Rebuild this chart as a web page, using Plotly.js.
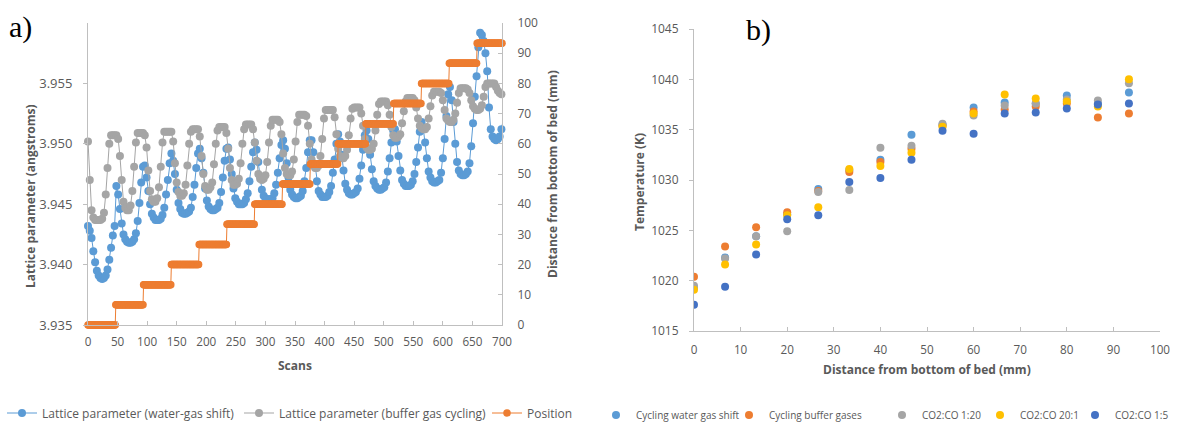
<!DOCTYPE html>
<html>
<head>
<meta charset="utf-8">
<script src="https://cdn.plot.ly/plotly-3.0.1.min.js"></script>
<style>
html,body{margin:0;padding:0;background:#fff;}
#chart{width:1181px;height:423px;}
</style>
</head>
<body>
<div id="chart"></div>
<script>
// ---------- Panel a) data ----------
const scanStep = 3; // lattice parameters read every 3 scans, starting at scan 0
const latticeWGS = [
3.9432,3.9428,3.9422,3.9411,3.9402,3.9395,3.9391,3.9389,3.9388,3.9389,3.9391,3.9396,3.9404,3.9414,3.9424,3.9432,
3.9465,3.9458,3.9446,3.9434,3.9425,3.9421,3.9419,3.9418,3.9418,3.9419,3.9421,3.9426,3.9436,3.9451,3.9468,3.9481,
3.9482,3.9472,3.9461,3.9450,3.9442,3.9439,3.9437,3.9437,3.9437,3.9438,3.9441,3.9447,3.9458,3.9470,3.9484,3.9492,
3.9486,3.9475,3.9462,3.9451,3.9446,3.9443,3.9442,3.9442,3.9443,3.9444,3.9447,3.9456,3.9466,3.9480,3.9492,3.9496,
3.9488,3.9476,3.9463,3.9453,3.9448,3.9446,3.9445,3.9445,3.9446,3.9447,3.9451,3.9460,3.9472,3.9486,3.9496,3.9497,
3.9487,3.9475,3.9463,3.9455,3.9452,3.9450,3.9450,3.9450,3.9451,3.9454,3.9459,3.9469,3.9481,3.9493,3.9501,3.9495,
3.9485,3.9473,3.9462,3.9457,3.9455,3.9454,3.9454,3.9454,3.9455,3.9459,3.9466,3.9476,3.9488,3.9499,3.9503,3.9496,
3.9484,3.9472,3.9462,3.9458,3.9456,3.9455,3.9455,3.9456,3.9457,3.9461,3.9469,3.9480,3.9493,3.9503,3.9503,3.9493,
3.9481,3.9469,3.9461,3.9458,3.9456,3.9456,3.9456,3.9457,3.9460,3.9465,3.9476,3.9487,3.9500,3.9508,3.9502,3.9491,
3.9478,3.9467,3.9462,3.9459,3.9458,3.9458,3.9459,3.9460,3.9463,3.9471,3.9482,3.9495,3.9507,3.9511,3.9504,3.9491,
3.9479,3.9469,3.9465,3.9463,3.9462,3.9462,3.9463,3.9464,3.9468,3.9477,3.9488,3.9501,3.9511,3.9512,3.9502,3.9490,
3.9478,3.9470,3.9467,3.9465,3.9465,3.9465,3.9466,3.9469,3.9475,3.9485,3.9497,3.9510,3.9518,3.9512,3.9501,3.9488,
3.9477,3.9472,3.9469,3.9468,3.9468,3.9469,3.9470,3.9476,3.9488,3.9504,3.9523,3.9541,3.9547,3.9536,3.9518,3.9500,
3.9485,3.9478,3.9475,3.9474,3.9474,3.9475,3.9477,3.9484,3.9498,3.9517,3.9539,3.9556,3.9580,3.9592,3.9590,3.9585,
3.9575,3.9560,3.9530,3.9512,3.9506,3.9504,3.9503,3.9504,3.9506,3.9512,3.9522,3.9528
];
const latticeBuffer = [
3.9502,3.9470,3.9445,3.9439,3.9437,3.9437,3.9437,3.9437,3.9438,3.9443,3.9458,3.9480,3.9500,3.9507,3.9507,3.9507,
3.9507,3.9504,3.9490,3.9470,3.9452,3.9447,3.9445,3.9445,3.9449,3.9461,3.9481,3.9501,3.9509,3.9509,3.9509,3.9509,
3.9507,3.9497,3.9478,3.9461,3.9454,3.9452,3.9452,3.9455,3.9464,3.9481,3.9501,3.9510,3.9510,3.9510,3.9510,3.9510,
3.9502,3.9484,3.9468,3.9460,3.9457,3.9457,3.9459,3.9466,3.9482,3.9500,3.9510,3.9512,3.9512,3.9512,3.9512,3.9506,
3.9490,3.9475,3.9465,3.9462,3.9462,3.9464,3.9468,3.9483,3.9500,3.9511,3.9514,3.9514,3.9514,3.9514,3.9509,3.9496,
3.9480,3.9470,3.9466,3.9466,3.9467,3.9471,3.9484,3.9500,3.9512,3.9516,3.9516,3.9516,3.9516,3.9512,3.9501,3.9486,
3.9475,3.9471,3.9470,3.9471,3.9474,3.9485,3.9501,3.9515,3.9520,3.9520,3.9520,3.9520,3.9518,3.9508,3.9492,3.9480,
3.9475,3.9474,3.9474,3.9477,3.9487,3.9502,3.9518,3.9524,3.9524,3.9524,3.9524,3.9523,3.9515,3.9500,3.9487,3.9482,
3.9480,3.9480,3.9482,3.9490,3.9504,3.9521,3.9528,3.9528,3.9528,3.9528,3.9528,3.9522,3.9508,3.9496,3.9490,3.9488,
3.9488,3.9490,3.9495,3.9507,3.9521,3.9529,3.9530,3.9530,3.9530,3.9530,3.9525,3.9515,3.9504,3.9497,3.9495,3.9495,
3.9496,3.9500,3.9511,3.9524,3.9533,3.9535,3.9535,3.9535,3.9535,3.9532,3.9524,3.9514,3.9507,3.9505,3.9505,3.9506,
3.9508,3.9517,3.9527,3.9535,3.9538,3.9538,3.9538,3.9538,3.9536,3.9530,3.9521,3.9515,3.9513,3.9512,3.9512,3.9514,
3.9521,3.9531,3.9540,3.9543,3.9543,3.9543,3.9543,3.9542,3.9536,3.9528,3.9521,3.9519,3.9518,3.9518,3.9520,3.9525,
3.9534,3.9542,3.9546,3.9546,3.9546,3.9546,3.9545,3.9542,3.9536,3.9531,3.9529,3.9528,3.9528,3.9529,3.9532,3.9539,
3.9547,3.9550,3.9550,3.9550,3.9550,3.9550,3.9547,3.9544,3.9542,3.9541,3.9542,3.9543
];
// Position steps (first scan, last scan, distance from bottom of bed in mm)
const stepFirstScan = [0,47,94,141,188,235,282,329,376,423,470,517,564,611,658];
const stepLastScan  = [46,93,140,187,234,281,328,375,422,469,516,563,610,657,705];
const stepPosition  = [0,6.67,13.33,20,26.67,33.33,40,46.67,53.33,60,66.67,73.33,80,86.67,93.33];

const xTicksA = [0,50,100,150,200,250,300,350,400,450,500,550,600,650,700];
const yTicksA = [3.935,3.940,3.945,3.950,3.955];
const yTickLabelsA = ['3.935','3.940','3.945','3.950','3.955'];
const y2TicksA = [0,10,20,30,40,50,60,70,80,90,100];

// ---------- Panel b) data ----------
const distance = [0,6.67,13.33,20,26.67,33.33,40,46.67,53.33,60,66.67,73.33,80,86.67,93.33];
const tempWGS    = [1019.3,1022.3,1024.4,1026.6,1029.1,1031.0,1032.0,1034.5,1035.5,1037.2,1037.7,1037.6,1038.4,1037.6,1038.7];
const tempBuffer = [1020.4,1023.4,1025.3,1026.8,1028.9,1030.8,1031.8,1033.1,1035.4,1036.8,1037.0,1037.3,1037.6,1036.2,1036.6];
const tempCO1_20 = [1019.5,1022.2,1024.4,1024.9,1028.8,1029.0,1033.2,1033.4,1035.6,1036.4,1037.4,1037.6,1038.0,1037.9,1039.6];
const tempCO20_1 = [1019.1,1021.6,1023.6,1026.5,1027.3,1031.1,1031.4,1032.7,1035.3,1036.6,1038.5,1038.1,1037.8,1037.3,1040.0];
const tempCO1_5  = [1017.6,1019.4,1022.6,1026.1,1026.5,1029.8,1030.2,1032.0,1034.9,1034.6,1036.6,1036.7,1037.1,1037.5,1037.6];
const xTicksB = [0,10,20,30,40,50,60,70,80,90,100];
const yTicksB = [1015,1020,1025,1030,1035,1040,1045];

// ---------- build ----------
const scansA = latticeWGS.map((_, i) => i * scanStep);
const posX = [], posY = [];
stepFirstScan.forEach((s, k) => {
  for (let sc = s; sc <= stepLastScan[k]; sc++) { posX.push(sc); posY.push(stepPosition[k]); }
});

const W = 1181, H = 423;
const px = v => v / W;
const py = v => 1 - v / H;

const FAM = 'Open Sans, Noto Sans, sans-serif';
const tickFont = {family: FAM, size: 12, color: '#595959'};
const titleFont = {family: FAM, size: 12, color: '#595959', weight: 'bold'};
const axisCol = '#BFBFBF';

const traces = [
  {x: scansA, y: latticeWGS, xaxis: 'x', yaxis: 'y', type: 'scatter', mode: 'lines+markers',
   name: 'Lattice parameter (water-gas shift)', legend: 'legend', cliponaxis: false,
   line: {color: '#5B9BD5', width: 1}, marker: {color: '#5B9BD5', size: 8}},
  {x: scansA, y: latticeBuffer, xaxis: 'x', yaxis: 'y', type: 'scatter', mode: 'lines+markers',
   name: 'Lattice parameter (buffer gas cycling)', legend: 'legend2', cliponaxis: false,
   line: {color: '#A5A5A5', width: 1}, marker: {color: '#A5A5A5', size: 8}},
  {x: posX, y: posY, xaxis: 'x', yaxis: 'y2', type: 'scatter', mode: 'lines+markers',
   name: 'Position', legend: 'legend3', cliponaxis: false,
   line: {color: '#ED7D31', width: 1}, marker: {color: '#ED7D31', size: 7.5}},
  {x: distance, y: tempWGS, xaxis: 'x3', yaxis: 'y3', type: 'scatter', mode: 'markers',
   name: 'Cycling water gas shift', legend: 'legend4', marker: {color: '#5B9BD5', size: 8}},
  {x: distance, y: tempBuffer, xaxis: 'x3', yaxis: 'y3', type: 'scatter', mode: 'markers',
   name: 'Cycling buffer gases', legend: 'legend5', marker: {color: '#ED7D31', size: 8}},
  {x: distance, y: tempCO1_20, xaxis: 'x3', yaxis: 'y3', type: 'scatter', mode: 'markers',
   name: 'CO2:CO 1:20', legend: 'legend6', marker: {color: '#A5A5A5', size: 8}},
  {x: distance, y: tempCO20_1, xaxis: 'x3', yaxis: 'y3', type: 'scatter', mode: 'markers',
   name: 'CO2:CO 20:1', legend: 'legend7', marker: {color: '#FFC000', size: 8}},
  {x: distance, y: tempCO1_5, xaxis: 'x3', yaxis: 'y3', type: 'scatter', mode: 'markers',
   name: 'CO2:CO 1:5', legend: 'legend8', marker: {color: '#4472C4', size: 8}}
];

const axBase = {showgrid: false, zeroline: false, showline: true, linecolor: axisCol, linewidth: 1,
  tickcolor: axisCol, ticklen: 4, tickfont: tickFont, fixedrange: true, automargin: false};

function leg(textStartPx, size, yc) {
  return {orientation: 'h', x: px(textStartPx - 40), xanchor: 'left', y: py(yc), yanchor: 'middle',
    font: {family: FAM, size: size, color: '#595959'}, bgcolor: 'rgba(0,0,0,0)', borderwidth: 0};
}

const layout = {
  width: W, height: H,
  margin: {l: 0, r: 0, t: 0, b: 0, pad: 0, autoexpand: false},
  paper_bgcolor: '#ffffff', plot_bgcolor: 'rgba(0,0,0,0)',
  showlegend: true,
  xaxis: Object.assign({}, axBase, {domain: [px(88), px(502)], range: [0, 700], tickvals: xTicksA,
    ticks: 'inside', anchor: 'y', ticklabelstandoff: 6, tickfont: Object.assign({}, tickFont, {size: 11.7})}),
  yaxis: Object.assign({}, axBase, {domain: [py(325), py(23)], range: [3.935, 3.960], tickvals: yTicksA,
    ticktext: yTickLabelsA, ticks: 'outside', anchor: 'x', ticklabelstandoff: 8,
    tickfont: Object.assign({}, tickFont, {size: 13})}),
  yaxis2: Object.assign({}, axBase, {domain: [py(325), py(23)], range: [0, 100], tickvals: y2TicksA,
    ticks: 'inside', overlaying: 'y', side: 'right', anchor: 'x', ticklabelstandoff: 12}),
  xaxis3: Object.assign({}, axBase, {domain: [px(694), px(1160)], range: [0, 100], tickvals: xTicksB,
    ticks: 'inside', anchor: 'y3', ticklabelstandoff: 8, tickfont: Object.assign({}, tickFont, {size: 11.7})}),
  yaxis3: Object.assign({}, axBase, {domain: [py(331), py(29)], range: [1015, 1045], tickvals: yTicksB,
    ticks: 'outside', anchor: 'x3', ticklabelstandoff: 8}),
  legend: leg(42, 12, 413),
  legend2: leg(279, 12, 413),
  legend3: leg(527, 12, 413),
  legend4: leg(636, 10, 415),
  legend5: leg(769, 10, 415),
  legend6: leg(922, 10, 415),
  legend7: leg(1020, 10, 415),
  legend8: leg(1115, 10, 415),
  annotations: [
    {text: 'a)', xref: 'paper', yref: 'paper', x: px(7), y: py(27), xanchor: 'left', yanchor: 'middle',
     showarrow: false, font: {family: 'Liberation Serif, DejaVu Serif, serif', size: 30, color: '#000'}},
    {text: 'b)', xref: 'paper', yref: 'paper', x: px(744), y: py(30), xanchor: 'left', yanchor: 'middle',
     showarrow: false, font: {family: 'Liberation Serif, DejaVu Serif, serif', size: 30, color: '#000'}},
    {text: 'Scans', xref: 'paper', yref: 'paper', x: px(295), y: py(365), xanchor: 'center', yanchor: 'middle',
     showarrow: false, font: titleFont},
    {text: 'Lattice parameter (angstroms)', xref: 'paper', yref: 'paper', x: px(30), y: py(196), textangle: -90,
     xanchor: 'center', yanchor: 'middle', showarrow: false, font: titleFont},
    {text: 'Distance from bottom of bed (mm)', xref: 'paper', yref: 'paper', x: px(553), y: py(174), textangle: -90,
     xanchor: 'center', yanchor: 'middle', showarrow: false, font: titleFont},
    {text: 'Distance from bottom of bed (mm)', xref: 'paper', yref: 'paper', x: px(927), y: py(369), xanchor: 'center', yanchor: 'middle',
     showarrow: false, font: titleFont},
    {text: 'Temperature (K)', xref: 'paper', yref: 'paper', x: px(640), y: py(182), textangle: -90,
     xanchor: 'center', yanchor: 'middle', showarrow: false, font: titleFont}
  ]
};

Plotly.newPlot('chart', traces, layout, {staticPlot: true, displayModeBar: false});
</script>
</body>
</html>
